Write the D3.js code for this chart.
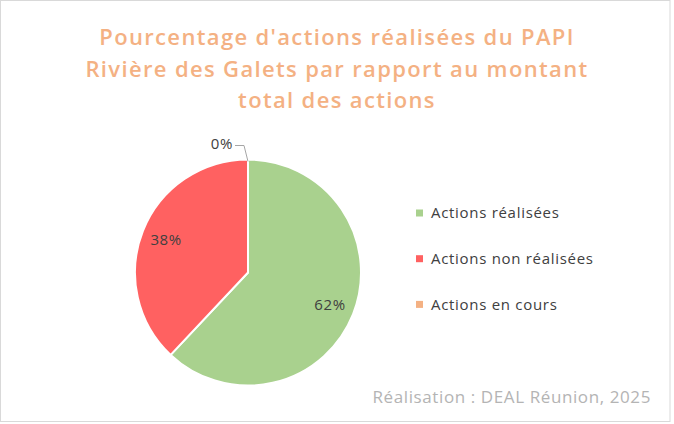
<!DOCTYPE html>
<html>
<head>
<meta charset="utf-8">
<script src="https://cdn.jsdelivr.net/npm/d3@7"></script>
<style>
  body { margin: 0; background: #fff; }
  svg { display: block; }
</style>
</head>
<body>
<svg id="chart" width="674" height="424"></svg>
<script>
var categories = ["Actions réalisées", "Actions non réalisées", "Actions en cours"];
var values = [62, 38, 0];
var colors = ["#A9D18E", "#FF6161", "#F4B183"];
var titleLines = ["Pourcentage d'actions réalisées du PAPI", "Rivière des Galets par rapport au montant", "total des actions"];
var source = "Réalisation : DEAL Réunion, 2025";

var svg = d3.select("#chart");

svg.append("rect")
  .attr("x", 0.5).attr("y", 0.5)
  .attr("width", 669.5).attr("height", 421)
  .attr("fill", "#fff")
  .attr("stroke", "#D9D9D9");

// title
svg.append("g").selectAll("text")
  .data(titleLines)
  .enter().append("text")
  .attr("x", 337)
  .attr("y", function(d, i) { return 45 + i * 31.5; })
  .attr("text-anchor", "middle")
  .attr("font-family", "Open Sans")
  .attr("font-weight", 600)
  .attr("font-size", 22)
  .attr("letter-spacing", 1.35)
  .attr("fill", "#F4B183")
  .text(function(d) { return d; });

var cx = 248, cy = 272.5, r = 113;
var data = categories.map(function(c, i) { return { name: c, value: values[i], color: colors[i] }; });

var pie = d3.pie().sort(null).value(function(d) { return d.value; });
var arcs = pie(data);
var arc = d3.arc().innerRadius(0).outerRadius(r);
var labelArc = d3.arc().innerRadius(r * 0.78).outerRadius(r * 0.78);

var g = svg.append("g").attr("transform", "translate(" + cx + "," + cy + ")");

g.selectAll("path")
  .data(arcs)
  .enter().append("path")
  .attr("d", arc)
  .attr("fill", function(d) { return d.data.color; })
  .attr("stroke", "#fff")
  .attr("stroke-width", 2);

function pct(d) { return Math.round(d.data.value) + "%"; }

// inside labels
g.selectAll("text.lab")
  .data(arcs.filter(function(d) { return d.data.value > 0; }))
  .enter().append("text")
  .attr("class", "lab")
  .attr("transform", function(d) { return "translate(" + labelArc.centroid(d) + ")"; })
  .attr("text-anchor", "middle")
  .attr("dy", "0.35em")
  .attr("font-family", "Open Sans")
  .attr("font-size", 15)
  .attr("letter-spacing", 0.6)
  .attr("fill", "#404040")
  .text(pct);

// outside label with leader line for empty slice
arcs.filter(function(d) { return d.data.value === 0; }).forEach(function(d) {
  var a = (d.startAngle + d.endAngle) / 2;
  var p0 = [Math.sin(a) * (r - 2), -Math.cos(a) * (r - 2)];
  var p1 = [p0[0] - 4, p0[1] - 16];
  var p2 = [p1[0] - 9, p1[1]];
  g.append("polyline")
    .attr("points", [p0, p1, p2].map(function(p) { return p.join(","); }).join(" "))
    .attr("fill", "none")
    .attr("stroke", "#A6A6A6")
    .attr("stroke-width", 1);
  g.append("text")
    .attr("x", p2[0] - 2)
    .attr("y", p2[1])
    .attr("dy", "0.25em")
    .attr("text-anchor", "end")
    .attr("font-family", "Open Sans")
    .attr("font-size", 15)
    .attr("letter-spacing", 0.6)
    .attr("fill", "#404040")
    .text(pct(d));
});

// legend
var legend = svg.append("g").attr("transform", "translate(416,213)");
var item = legend.selectAll("g")
  .data(data)
  .enter().append("g")
  .attr("transform", function(d, i) { return "translate(0," + (i * 45.7) + ")"; });
item.append("rect")
  .attr("x", 0).attr("y", -3.5)
  .attr("width", 7).attr("height", 7)
  .attr("fill", function(d) { return d.color; });
item.append("text")
  .attr("x", 15)
  .attr("dy", "0.35em")
  .attr("font-family", "Open Sans")
  .attr("font-size", 15)
  .attr("letter-spacing", 0.7)
  .attr("fill", "#404040")
  .text(function(d) { return d.name; });

// source
svg.append("text")
  .attr("x", 651)
  .attr("y", 403)
  .attr("text-anchor", "end")
  .attr("font-family", "Open Sans")
  .attr("font-size", 17)
  .attr("letter-spacing", 0.6)
  .attr("fill", "#B4B4B4")
  .text(source);
</script>
</body>
</html>
